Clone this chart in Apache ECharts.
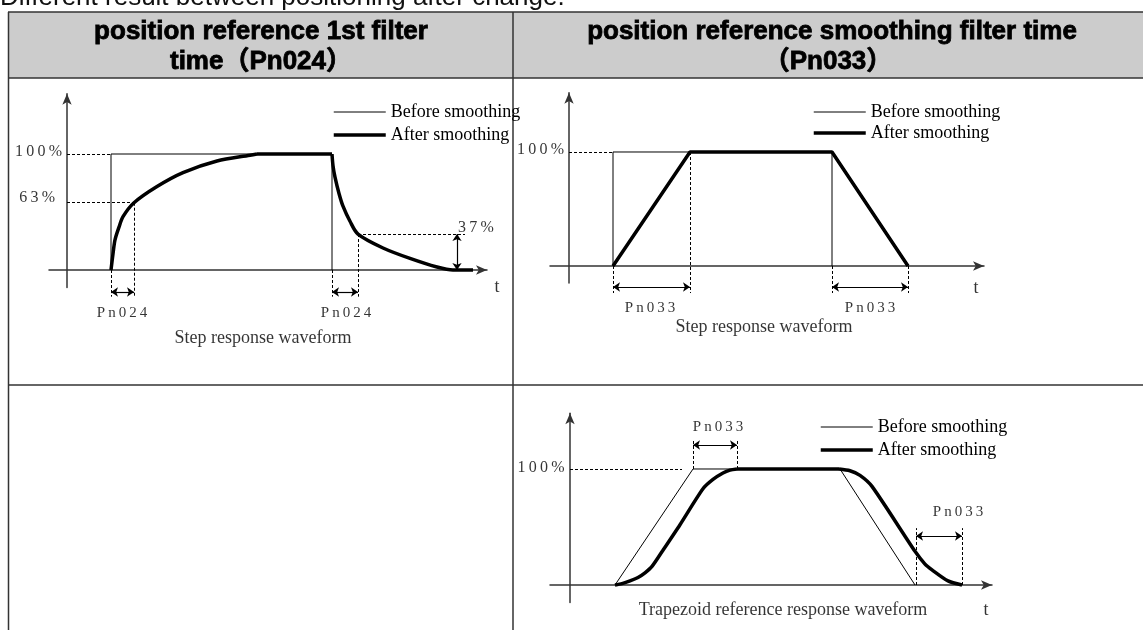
<!DOCTYPE html>
<html>
<head>
<meta charset="utf-8">
<title>Position reference filter waveforms</title>
<script src="https://cdn.jsdelivr.net/npm/echarts@6/dist/echarts.min.js"></script>
<style>
  html, body { margin: 0; padding: 0; background: #fff; }
  #main { width: 1143px; height: 630px; }
</style>
</head>
<body>
<div id="main"></div>
<script>
const SERIF = '"Liberation Serif", "Times New Roman", serif';
const SANS = '"Liberation Sans", Arial, "Noto Sans CJK SC", sans-serif';

const seriesNames = ['Before smoothing', 'After smoothing'];

// ---- step response, position reference 1st filter (Pn024) ----
// x: time from the y axis, y: percent of the reference
const before024 = [[44, 0], [44, 100], [265, 100], [265, 0]];
const afterRise024 = [[44, 0], [46, 14], [48, 26], [52, 37], [56, 46], [67, 58], [90, 72], [116, 84], [150, 94], [183, 99], [190, 100]];
const afterFlat024 = [[190, 100], [265, 100]];
const afterFall024 = [[265, 100], [266, 90], [268, 80], [272, 66], [276, 55], [283, 42], [291, 31], [316, 19], [343, 10], [370, 2.6], [386, 0], [406, 0]];
const guides024 = [
  [[0, 100], [44, 100]], [[0, 58], [67, 58]],
  [[44, 0], [44, -23]], [[67, 58], [67, -23]],
  [[265, 0], [265, -23]], [[291, 31], [291, -23]],
  [[291, 31], [398, 31]]
];
const spans024 = [[[44, -19], [67, -19]], [[265, -19], [291, -19]], [[390, 31], [390, 0]]];
const levels024 = [['100%', -5, 101.7], ['63%', -12, 62]];
const marks024 = [['Pn024', 55, -37], ['Pn024', 279, -37]];
const marksLeft024 = [['37%', 391, 36]];
const captions024 = [['Step response waveform', 196, -58.6], ['t', 430, -14.7]];

// ---- step response, smoothing filter (Pn033) ----
const before033 = [[44, 0], [44, 100], [263, 100], [263, 0]];
const after033 = [[44, 0], [121, 100], [263, 100], [339, 0]];
const guides033 = [
  [[0, 100], [44, 100]],
  [[44, 0], [44, -23.7]], [[121, 100], [121, -23.7]],
  [[263, 0], [263, -23.7]], [[339, 0], [339, -23.7]]
];
const spans033 = [[[44, -18.4], [121, -18.4]], [[263, -18.4], [339, -18.4]]];
const levels033 = [['100%', -5, 101.8]];
const marks033 = [['Pn033', 81, -36.8], ['Pn033', 301, -36.8]];
const captions033 = [['Step response waveform', 195, -53.5], ['t', 407, -19.3]];

// ---- trapezoid reference, smoothing filter (Pn033) ----
const beforeTrap = [[45, 0], [123, 100], [270, 100], [345, 0]];
const afterTrapRise = [[45, 0], [52, 1.2], [60, 3.5], [68, 6.5], [75, 10.5], [82, 16], [93, 30], [110, 52], [133, 83], [143, 91], [153, 96.5], [160, 99], [167, 100]];
const afterTrapFlat = [[167, 100], [269, 100]];
const afterTrapFall = [[269, 100], [280, 98.5], [290, 94.5], [302, 85], [345, 29], [355, 18], [362, 13], [378, 3.5], [392, 0]];
const guidesTrap = [
  [[0, 100], [112, 100]],
  [[123, 100], [123, 125]], [[167, 100], [167, 125]],
  [[346, 0], [346, 49]], [[392, 0], [392, 49]]
];
const spansTrap = [[[123, 120.7], [167, 120.7]], [[346, 42.2], [392, 42.2]]];
const levelsTrap = [['100%', -5.5, 100.9]];
const marksTrap = [['Pn033', 148, 136.2], ['Pn033', 388, 62.9]];
const captionsTrap = [['Trapezoid reference response waveform', 213, -21.6], ['t', 416, -21.6]];

// letter spaced labels like the original drawing
function spaced(s) {
  return s.split('').join('\u2009');
}

function wave(name, data, idx, width, smooth) {
  return {
    type: 'line', name: name, data: data,
    xAxisIndex: idx, yAxisIndex: idx,
    symbol: 'none', smooth: smooth, silent: true,
    lineStyle: { color: '#000', width: width },
    z: width > 2 ? 4 : 3
  };
}

function guideLines(segs, idx) {
  return {
    type: 'lines', coordinateSystem: 'cartesian2d',
    xAxisIndex: idx, yAxisIndex: idx, clip: false, silent: true,
    data: segs.map(c => ({ coords: c })),
    symbol: ['none', 'none'],
    lineStyle: { color: '#000', width: 1, type: [3, 2], opacity: 1, curveness: 0 },
    z: 2
  };
}

function spanArrows(segs, idx) {
  return {
    type: 'lines', coordinateSystem: 'cartesian2d',
    xAxisIndex: idx, yAxisIndex: idx, clip: false, silent: true,
    data: segs.map(c => ({ coords: c })),
    symbol: ['arrow', 'arrow'], symbolSize: 7,
    lineStyle: { color: '#000', width: 1.2, opacity: 1, curveness: 0 },
    z: 3
  };
}

function texts(items, idx, size, align, space) {
  return {
    type: 'scatter', xAxisIndex: idx, yAxisIndex: idx,
    clip: false, silent: true, symbolSize: 1,
    itemStyle: { color: 'rgba(0,0,0,0)' },
    data: items.map(t => ({ name: space ? spaced(t[0]) : t[0], value: [t[1], t[2]] })),
    label: {
      show: true, position: 'inside', formatter: '{b}',
      color: '#000', fontFamily: SERIF, fontSize: size, align: align
    },
    z: 5
  };
}

function valueAxis(idx, min, max) {
  return {
    type: 'value', gridIndex: idx, min: min, max: max,
    axisLine: {
      show: true, onZero: true, symbol: ['none', 'arrow'], symbolSize: [7, 11],
      lineStyle: { color: '#333', width: 1.5 }
    },
    axisTick: { show: false }, axisLabel: { show: false }, splitLine: { show: false }
  };
}

function legendAt(left, top, gap) {
  return {
    data: seriesNames, orient: 'vertical', left: left, top: top,
    padding: 0, itemWidth: 52, itemHeight: 14, itemGap: gap,
    selectedMode: false,
    itemStyle: { opacity: 0 },
    lineStyle: { width: 'inherit', color: '#000' },
    textStyle: { fontFamily: SERIF, fontSize: 18, color: '#000', lineHeight: 18 }
  };
}

const lineStyleTable = { stroke: '#333', lineWidth: 1.5 };

function headerText(text, x, y) {
  return {
    type: 'text', x: x, y: y,
    style: {
      text: text, font: 'bold 26px ' + SANS, fill: '#000', stroke: '#000', lineWidth: 0.8,
      textAlign: 'center', align: 'center', textVerticalAlign: 'middle', verticalAlign: 'middle'
    }
  };
}

const option = {
  animation: false,
  backgroundColor: '#fff',
  grid: [
    { left: 49, top: 93.68, width: 438, height: 193.72 },
    { left: 550, top: 92.7, width: 434, height: 190.4 },
    { left: 550, top: 413.3, width: 442, height: 189.1 }
  ],
  xAxis: [valueAxis(0, -18, 420), valueAxis(1, -19, 415), valueAxis(2, -20, 422)],
  yAxis: [valueAxis(0, -15, 152), valueAxis(1, -15, 152), valueAxis(2, -15, 148)],
  legend: [legendAt(332, 103, 5), legendAt(812, 103, 3), legendAt(819, 418, 5)],
  graphic: [
    // header band and table rules
    { type: 'rect', shape: { x: 8.5, y: 12, width: 1134.5, height: 66 }, style: { fill: '#cccccc' }, z: -10 },
    { type: 'line', shape: { x1: 8, y1: 12, x2: 1143, y2: 12 }, style: lineStyleTable },
    { type: 'line', shape: { x1: 8, y1: 78, x2: 1143, y2: 78 }, style: lineStyleTable },
    { type: 'line', shape: { x1: 8, y1: 385, x2: 1143, y2: 385 }, style: lineStyleTable },
    { type: 'line', shape: { x1: 8.5, y1: 12, x2: 8.5, y2: 630 }, style: lineStyleTable },
    { type: 'line', shape: { x1: 513, y1: 12, x2: 513, y2: 630 }, style: lineStyleTable },
    {
      type: 'text', x: 0, y: -2,
      style: {
        text: 'Different result between positioning after change.', font: '26px ' + SANS, fill: '#111',
        textVerticalAlign: 'middle', verticalAlign: 'middle'
      }
    },
    headerText('position reference 1st filter', 261, 32),
    headerText('time（Pn024）', 261, 62),
    headerText('position reference smoothing filter time', 832, 32),
    headerText('（Pn033）', 828, 62)
  ],
  series: [
    // Pn024 step response
    wave('Before smoothing', before024, 0, 1, false),
    wave('After smoothing', afterRise024, 0, 3.5, 0.3),
    wave('After smoothing', afterFlat024, 0, 3.5, false),
    wave('After smoothing', afterFall024, 0, 3.5, 0.3),
    guideLines(guides024, 0),
    spanArrows(spans024, 0),
    texts(levels024, 0, 16, 'right', true),
    texts(marks024, 0, 15, 'center', true),
    texts(marksLeft024, 0, 16, 'left', true),
    texts(captions024, 0, 18, 'center', false),

    // Pn033 step response
    wave('Before smoothing', before033, 1, 1, false),
    wave('After smoothing', after033, 1, 3.5, false),
    guideLines(guides033, 1),
    spanArrows(spans033, 1),
    texts(levels033, 1, 16, 'right', true),
    texts(marks033, 1, 15, 'center', true),
    texts(captions033, 1, 18, 'center', false),

    // Pn033 trapezoid response
    wave('Before smoothing', beforeTrap, 2, 1, false),
    wave('After smoothing', afterTrapRise, 2, 3.5, 0.25),
    wave('After smoothing', afterTrapFlat, 2, 3.5, false),
    wave('After smoothing', afterTrapFall, 2, 3.5, 0.25),
    guideLines(guidesTrap, 2),
    spanArrows(spansTrap, 2),
    texts(levelsTrap, 2, 16, 'right', true),
    texts(marksTrap, 2, 15, 'center', true),
    texts(captionsTrap, 2, 18, 'center', false)
  ]
};

const chart = echarts.init(document.getElementById('main'));
chart.setOption(option);
</script>
</body>
</html>
